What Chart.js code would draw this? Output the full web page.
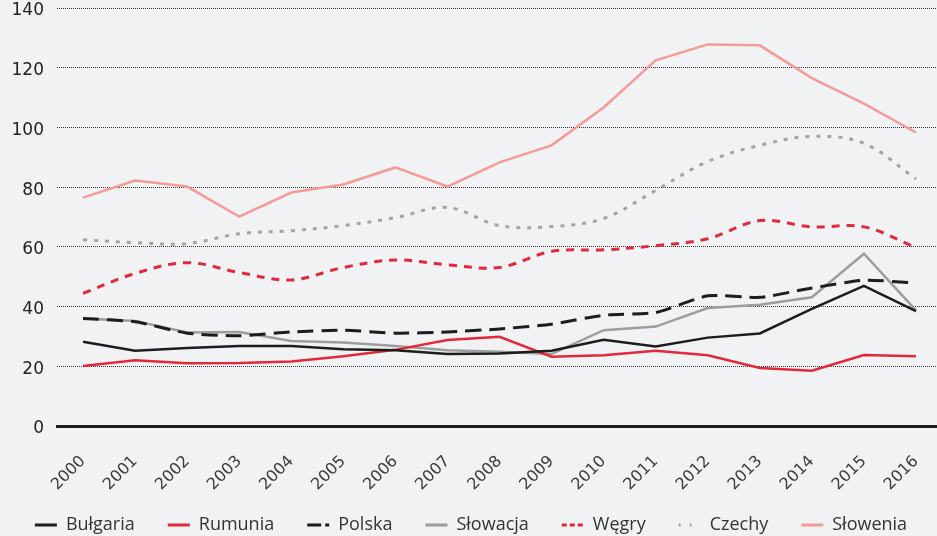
<!DOCTYPE html>
<html>
<head>
<meta charset="utf-8">
<script src="https://cdn.jsdelivr.net/npm/chart.js@4.4.1/dist/chart.umd.min.js"></script>
<style>
  html, body { margin: 0; padding: 0; background: #f1f2f4; overflow: hidden; }
  #wrap { width: 942px; height: 536px; }
</style>
</head>
<body>
<div id="wrap"><canvas id="chart"></canvas></div>
<script>
/** Data **/
const years = ['2000', '2001', '2002', '2003', '2004', '2005', '2006', '2007', '2008',
               '2009', '2010', '2011', '2012', '2013', '2014', '2015', '2016'];

const bulgaria = [28.2, 25.2, 26.1, 26.8, 26.8, 25.7, 25.4, 24.1, 24.3, 25.2, 28.9, 26.6, 29.6, 31.0, 39.2, 46.9, 38.5];
const rumunia  = [20.1, 22.0, 21.0, 21.1, 21.6, 23.4, 25.5, 28.8, 29.9, 23.2, 23.7, 25.2, 23.7, 19.4, 18.5, 23.8, 23.4];
const polska   = [36.0, 34.9, 31.1, 30.2, 31.5, 32.1, 31.1, 31.5, 32.5, 34.1, 37.1, 38.0, 43.6, 43.1, 46.2, 48.8, 47.9];
const slowacja = [36.0, 35.2, 31.3, 31.5, 28.5, 28.0, 26.8, 25.4, 24.9, 24.1, 32.1, 33.3, 39.5, 40.6, 43.1, 57.7, 38.7];
const wegry    = [44.4, 51.1, 54.7, 51.4, 48.9, 53.1, 55.6, 54.0, 53.1, 58.5, 59.0, 60.4, 62.7, 68.8, 66.7, 66.7, 59.8];
const czechy   = [62.4, 61.4, 61.1, 64.4, 65.4, 67.1, 69.8, 73.2, 67.1, 66.8, 69.5, 78.9, 88.6, 94.0, 97.0, 94.7, 82.7];
const slowenia = [76.5, 82.2, 80.2, 70.1, 78.2, 80.9, 86.6, 80.2, 88.3, 94.0, 106.7, 122.5, 127.8, 127.5, 116.5, 108.0, 98.3];

const yTicks = { min: 0, max: 140, step: 20 };

/** Styles **/
const BLACK = '#1d1d1b';
const RED = '#e3283b';
const GREY = '#9d9d9c';
const GREY_DOT = '#a3a3a3';
const PINK = '#f49b98';

// legend swatches use a shorter dash than the lines themselves
const legendDash = [[], [], [14, 4], [], [5, 3], [2, 9], []];

function series(label, data, color, dash, tension, width) {
  return {
    label: label,
    data: data,
    borderColor: color,
    backgroundColor: color,
    borderWidth: width,
    borderDash: dash,
    borderCapStyle: 'butt',
    pointRadius: 0,
    tension: tension,
    fill: false
  };
}

// legend: fixed height, then its top pulled up so the row sits near the bottom edge
const legendPlacement = {
  id: 'legendPlacement',
  beforeInit(chart) {
    const fit = chart.legend.fit;
    chart.legend.fit = function () {
      fit.call(this);
      this.height = 36;
    };
  },
  afterLayout(chart) {
    chart.legend.top -= 17;
  }
};

new Chart(document.getElementById('chart'), {
  type: 'line',
  data: {
    labels: years,
    datasets: [
      series('Bułgaria', bulgaria, BLACK, [], 0, 2.5),
      series('Rumunia', rumunia, RED, [], 0, 2.5),
      series('Polska', polska, BLACK, [16, 8], 0.2, 3),
      series('Słowacja', slowacja, GREY, [], 0, 2.5),
      series('Węgry', wegry, RED, [8, 7], 0.35, 3),
      series('Czechy', czechy, GREY_DOT, [4, 7], 0.35, 3),
      series('Słowenia', slowenia, PINK, [], 0, 2.5)
    ]
  },
  options: {
    responsive: true,
    maintainAspectRatio: false,
    animation: false,
    layout: { padding: 0 },
    plugins: {
      tooltip: { enabled: false },
      legend: {
        position: 'bottom',
        labels: {
          usePointStyle: true,
          pointStyle: 'line',
          pointStyleWidth: 22,
          padding: 33,
          color: '#333',
          font: { family: 'Open Sans', size: 18 },
          generateLabels: function (chart) {
            const items = Chart.defaults.plugins.legend.labels.generateLabels(chart);
            items.forEach(function (it, i) {
              it.lineDash = legendDash[i];
              it.lineWidth = 3;
              it.lineCap = 'butt';
            });
            return items;
          }
        }
      }
    },
    scales: {
      x: {
        offset: true,
        grid: { display: false },
        border: { display: true, color: BLACK, width: 3 },
        ticks: {
          minRotation: 45,
          maxRotation: 45,
          padding: 18,
          color: '#3a3a3a',
          font: { family: 'DejaVu Sans', size: 16 }
        },
        afterFit: function (s) {
          s.height = 74;
          s.paddingLeft = 0;
          s.paddingRight = 0;
        }
      },
      y: {
        min: yTicks.min,
        max: yTicks.max,
        grid: { color: '#333', lineWidth: 1, drawTicks: false },
        border: { display: false, dash: [1, 1] },
        ticks: {
          stepSize: yTicks.step,
          padding: 13,
          labelOffset: 3,
          color: '#222',
          font: { family: 'DejaVu Sans', size: 17 }
        },
        afterFit: function (s) {
          s.width = 57;
          s.paddingTop = 8;
        }
      }
    }
  },
  plugins: [legendPlacement]
});
</script>
</body>
</html>
